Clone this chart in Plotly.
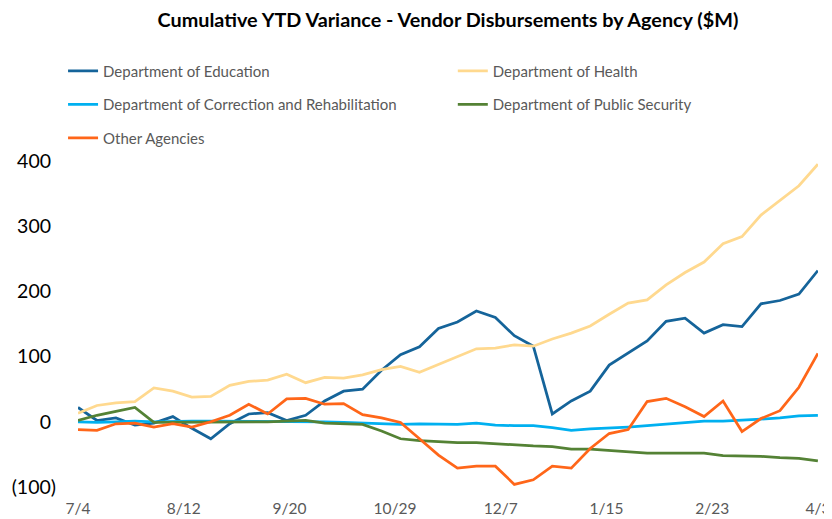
import pandas as pd
import plotly.graph_objects as go

dates = pd.date_range("2014-07-04", "2015-04-03", freq="7D")

education = [22, 2, 6, -5, -2, 8, -10, -26, -3, 12, 14, 2, 10, 32, 47, 50, 79, 103, 115, 143,
             153, 170, 160, 132, 116, 12, 32, 47, 87, 106, 124, 154, 159, 136, 149, 146, 181, 186, 196, 232]
health = [13, 25, 29, 31, 52, 47, 38, 39, 56, 62, 64, 73, 60, 68, 67, 72, 80, 85, 76, 88,
          100, 112, 113, 118, 116, 127, 136, 147, 165, 182, 187, 210, 229, 245, 273, 284, 317, 339, 362, 395]
correction = [0, -1, 0, 1, 0, 1, 1, 1, 1, 1, 1, 1, 1, 0, -1, -2, -3, -4, -3, -4,
              -4, -2, -5, -6, -6, -9, -13, -11, -10, -8, -6, -4, -1, 1, 1, 2, 4, 6, 9, 10]
public_security = [2, 10, 16, 22, -1, -1, -1, -1, -1, 0, 0, 1, 2, -2, -3, -4, -14, -26, -29, -31,
                   -32, -32, -34, -36, -37, -38, -42, -42, -44, -45, -48, -48, -48, -48, -52, -52, -53, -55, -56, -60]
other = [-12, -13, -3, -2, -8, -3, -8, 0, 10, 27, 12, 35, 36, 27, 28, 11, 6, -1, -26, -51,
         -71, -68, -68, -96, -89, -68, -71, -41, -18, -12, 31, 36, 23, 8, 32, -15, 5, 17, 53, 105]

x_tick_dates = ["2014-07-04", "2014-08-12", "2014-09-20", "2014-10-29", "2014-12-07",
                "2015-01-15", "2015-02-23", "2015-04-03"]
x_tick_labels = ["7/4", "8/12", "9/20", "10/29", "12/7", "1/15", "2/23", "4/3"]
y_tick_vals = [-100, 0, 100, 200, 300, 400]
y_tick_labels = ["(100)", "0\u00a0", "100\u00a0", "200\u00a0", "300\u00a0", "400\u00a0"]

series = [
    ("Department of Education", education, "#15649A", "legend"),
    ("Department of Health", health, "#FFD98F", "legend2"),
    ("Department of Correction and Rehabilitation", correction, "#00B0F0", "legend"),
    ("Department of Public Security", public_security, "#548235", "legend2"),
    ("Other Agencies", other, "#FF6619", "legend"),
]

FONT = "Lato"
x_range = [dates[0], dates[-1] + pd.Timedelta(hours=1)]

# The page body has an 8px default margin, so the figure is 8px smaller than the window.
W, H = 824, 511

fig = go.Figure()
for name, vals, color, leg in series:
    fig.add_trace(go.Scatter(
        x=dates, y=vals, name=name, mode="lines",
        line=dict(color=color, width=2.75),
        legend=leg, legendgroup=name,
    ))

fig.update_layout(
    width=W, height=H,
    margin=dict(l=70, r=14, t=153, b=31.5, autoexpand=False),
    plot_bgcolor="white", paper_bgcolor="white",
    font=dict(family=FONT, color="#595959"),
    title=dict(
        text="<b>Cumulative YTD Variance - Vendor Disbursements by Agency ($M)</b>",
        x=440 / W, xanchor="center", y=1 - 12 / H, yanchor="middle",
        font=dict(family=FONT, size=19.8, color="black"),
    ),
    xaxis=dict(
        type="date", range=x_range,
        tickvals=x_tick_dates, ticktext=x_tick_labels,
        showgrid=False, zeroline=False, showline=False, ticks="",
        tickfont=dict(size=15.5, color="#595959", family=FONT),
        ticklabelstandoff=10, ticklabeloverflow="allow",
    ),
    xaxis2=dict(
        type="date", range=x_range, overlaying="x",
        anchor="free", position=0.2, side="bottom",
        tickvals=x_tick_dates, showticklabels=False,
        showgrid=False, zeroline=False, showline=True,
        linecolor="#D9D9D9", linewidth=1.5,
        ticks="outside", ticklen=5, tickcolor="#D9D9D9", tickwidth=1.5,
        layer="below traces",
    ),
    yaxis=dict(
        range=[-100, 400], tickvals=y_tick_vals, ticktext=y_tick_labels,
        showgrid=False, zeroline=False, showline=False, ticks="",
        tickfont=dict(size=19.5, color="black", family=FONT),
        ticklabelstandoff=21,
    ),
    legend=dict(
        x=-0.0202, y=1.326, xanchor="left", yanchor="top",
        font=dict(size=15, color="#595959", family=FONT),
        tracegroupgap=11, bgcolor="rgba(0,0,0,0)",
    ),
    legend2=dict(
        x=0.5065, y=1.326, xanchor="left", yanchor="top",
        font=dict(size=15, color="#595959", family=FONT),
        tracegroupgap=11, bgcolor="rgba(0,0,0,0)",
    ),
    showlegend=True,
)

fig.write_html("out.html")
